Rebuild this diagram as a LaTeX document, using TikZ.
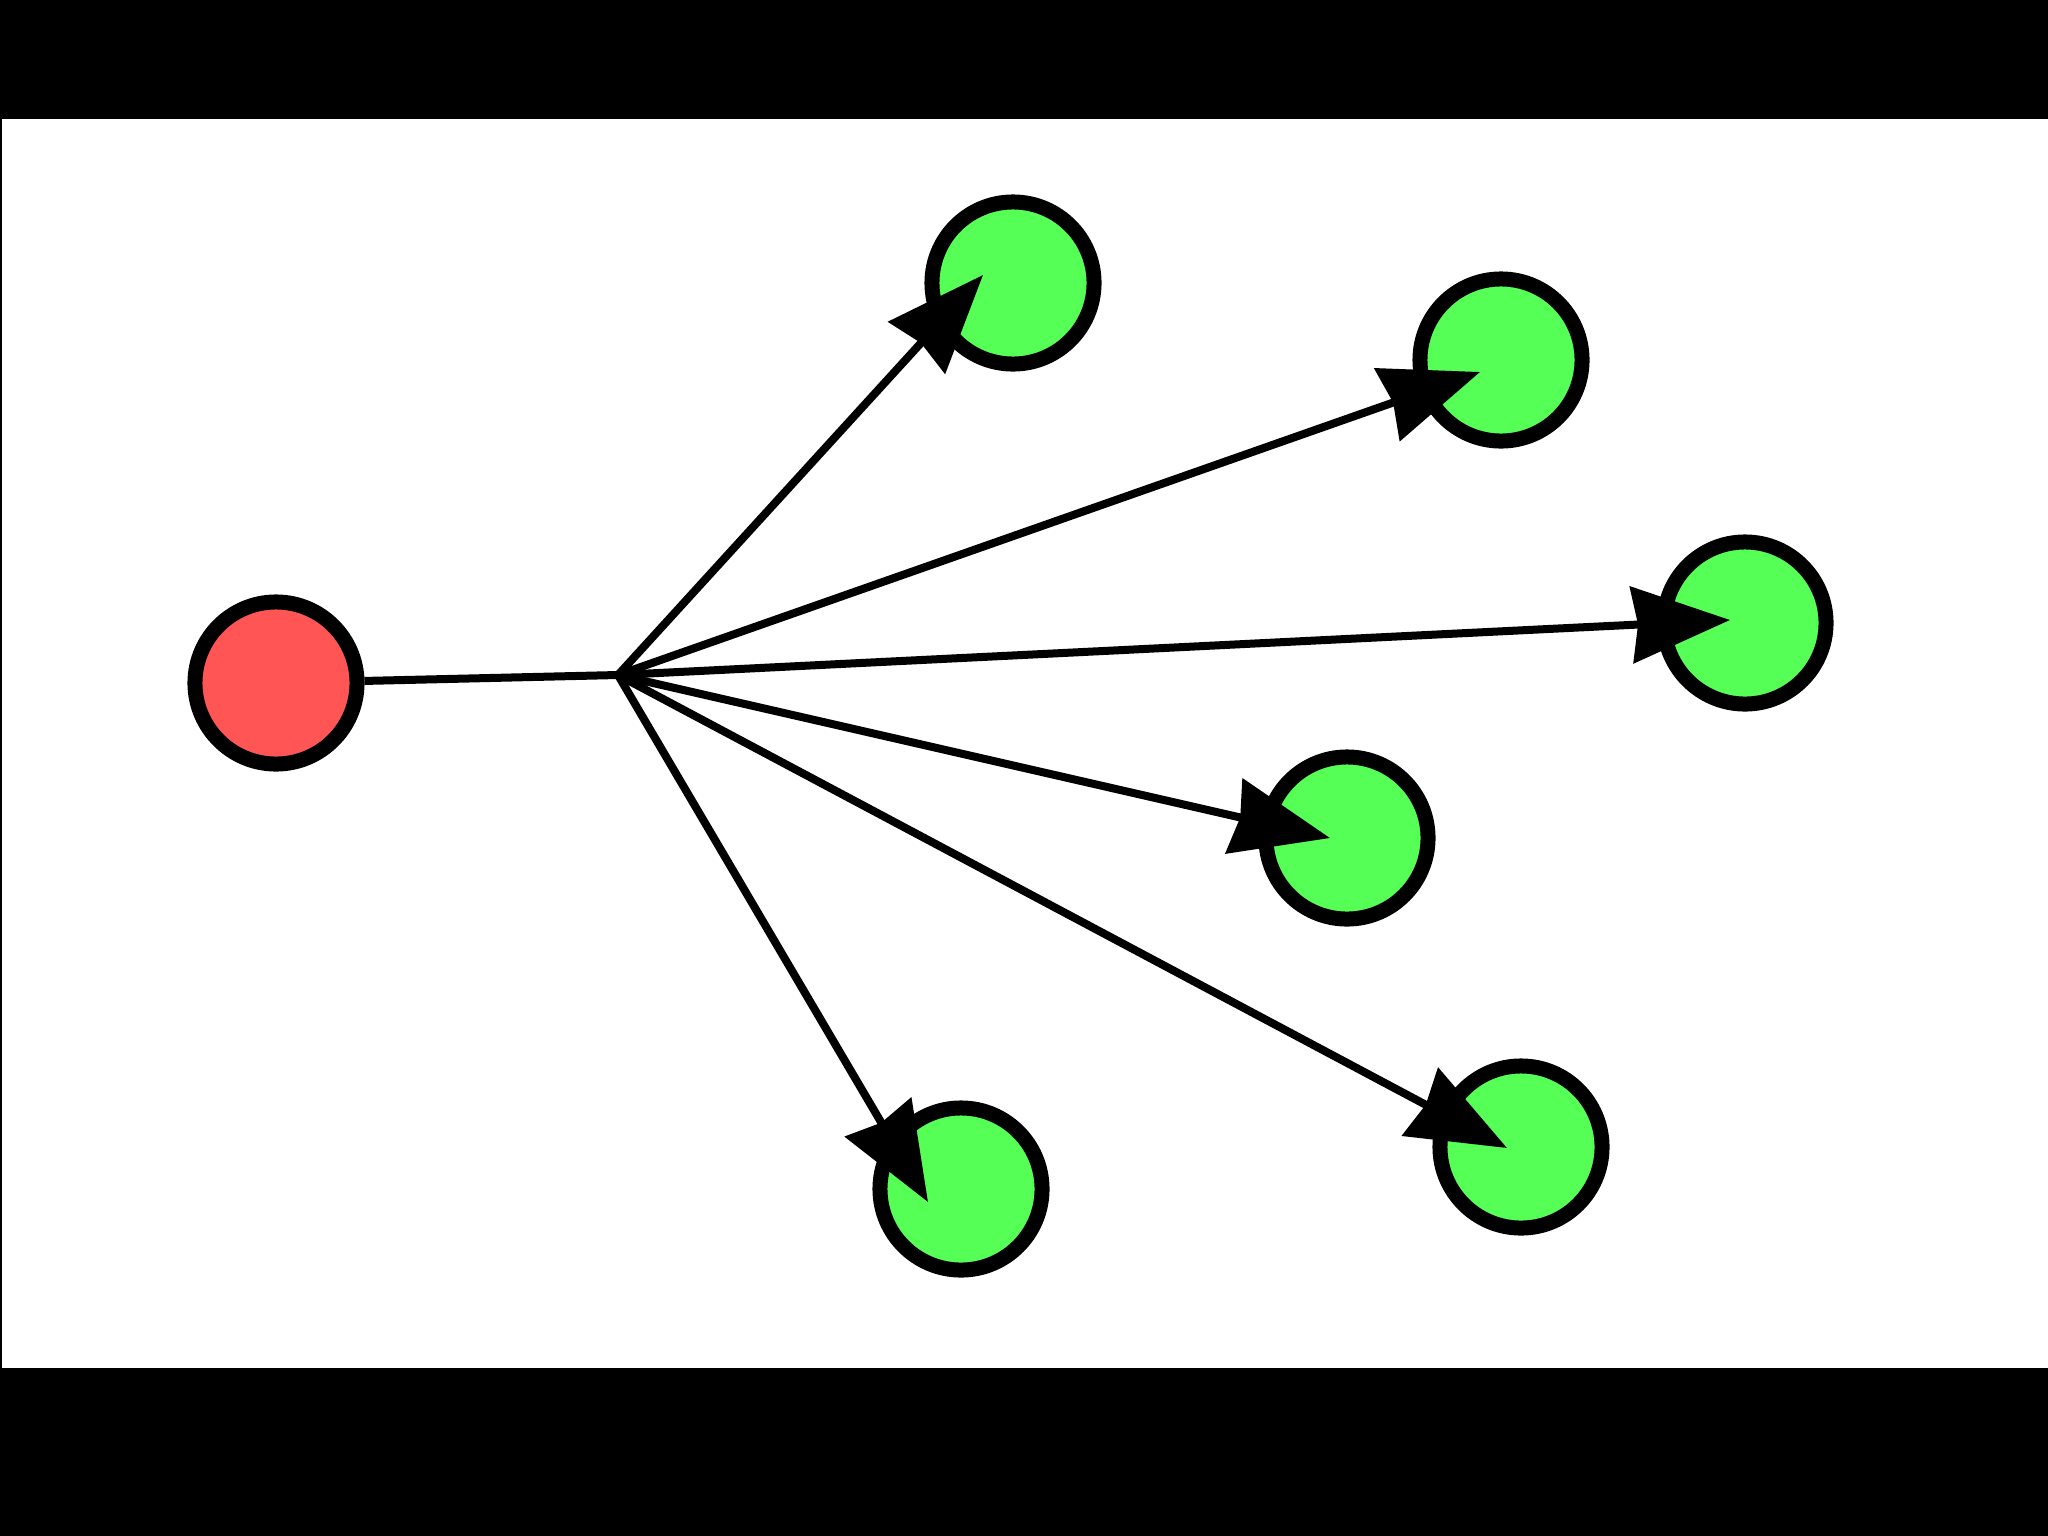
\documentclass[tikz,border=0pt]{standalone}
\usetikzlibrary{arrows.meta,calc}
\definecolor{fanred}{HTML}{FF5555}
\definecolor{fangreen}{HTML}{55FF55}
\tikzset{
  source/.style={circle,draw=black,line width=0.15cm,fill=fanred,
                 minimum size=1.62cm,inner sep=0pt},
  target/.style={circle,draw=black,line width=0.15cm,fill=fangreen,
                 minimum size=1.62cm,inner sep=0pt},
  link/.style={line width=0.08cm,draw=black},
  flow/.style={link,-{Stealth[length=0.98cm,width=0.76cm,inset=0.06cm]}},
}

\begin{document}
\begin{tikzpicture}[x=0.01cm,y=-0.01cm]
  % letterbox frame
  \fill[black] (0,0) rectangle (2048,1536);
  \fill[white] (2,119) rectangle (2048,1368);
  \useasboundingbox (0,0) rectangle (2048,1536);

  \node[source] (src) at (276,683) {};
  \coordinate (hub) at (618,675);

  \node[target] (t1) at (1013,283) {};
  \node[target] (t2) at (1501,360) {};
  \node[target] (t3) at (1745,623) {};
  \node[target] (t4) at (1347,838) {};
  \node[target] (t5) at (1521,1147) {};
  \node[target] (t6) at (961,1189) {};

  % fan out from the hub
  \draw[link] (src) -- (hub);
  \draw[flow] (hub) -- ($(t1)+(-30,-8)$);
  \draw[flow] (hub) -- ($(t2)+(-21,12)$);
  \draw[flow] (hub) -- ($(t3)+(-15,-3)$);
  \draw[flow] (hub) -- ($(t4)+(-17,0)$);
  \draw[flow] (hub) -- ($(t5)+(-14,1)$);
  \draw[flow] (hub) -- ($(t6)+(-33,13)$);
\end{tikzpicture}
\end{document}
